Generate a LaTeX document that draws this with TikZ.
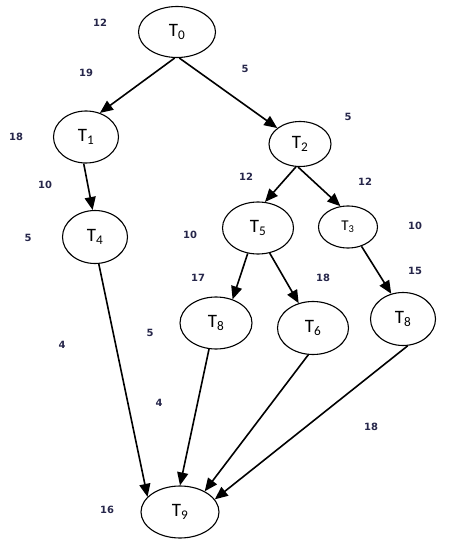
\documentclass[tikz,border=0pt]{standalone}
\usepackage{fontspec}
\setmainfont{Carlito}
\newfontfamily\numfont{DejaVu Sans}
\usetikzlibrary{shapes.geometric,arrows.meta}
\begin{document}
\begin{tikzpicture}[x=1bp,y=-1bp,
  task/.style={draw,ellipse,line width=1.1bp,inner sep=0pt,font=\fontsize{19}{21}\selectfont},
  wt/.style={font=\numfont\bfseries\fontsize{10}{12}\selectfont,text=black!80!blue!70!gray},
  edge/.style={line width=1.6bp,-{Triangle[length=13bp,width=11bp]}}]
\useasboundingbox (0,0) rectangle (474,540);
\node[task,minimum width=77bp,minimum height=51bp] (T0) at (177,32) {T$_\mathrm{0}$};
\node[task,minimum width=65bp,minimum height=52bp] (T1) at (86,137) {T$_\mathrm{1}$};
\node[task,minimum width=62bp,minimum height=45bp] (T2) at (300,144) {T$_\mathrm{2}$};
\node[task,minimum width=65bp,minimum height=53bp] (T4) at (95,237) {T$_\mathrm{4}$};
\node[task,minimum width=71bp,minimum height=52bp] (T5) at (258,228) {T$_\mathrm{5}$};
\node[task,minimum width=59bp,minimum height=42bp,font=\fontsize{15}{17}\selectfont] (T3) at (348,227) {T$_\mathrm{3}$};
\node[task,minimum width=72bp,minimum height=52bp] (T8a) at (216,323) {T$_\mathrm{8}$};
\node[task,minimum width=71bp,minimum height=53bp] (T6) at (313,328) {T$_\mathrm{6}$};
\node[task,minimum width=65bp,minimum height=53bp] (T8b) at (403,319) {T$_\mathrm{8}$};
\node[task,minimum width=78bp,minimum height=52bp] (T9) at (180,512) {T$_\mathrm{9}$};
% weights
\node[wt] (w1) at (100,23) {12};
\node[wt] (w2) at (86,73) {19};
\node[wt] (w3) at (245,69) {5};
\node[wt] (w4) at (348,117) {5};
\node[wt] (w5) at (16,137) {18};
\node[wt] (w6) at (45,185) {10};
\node[wt] (w7) at (246,177) {12};
\node[wt] (w8) at (365,182) {12};
\node[wt] (w9) at (28,238) {5};
\node[wt] (w10) at (190,235) {10};
\node[wt] (w11) at (415,226) {10};
\node[wt] (w12) at (415,271) {15};
\node[wt] (w13) at (198,278) {17};
\node[wt] (w14) at (323,278) {18};
\node[wt] (w15) at (150,333) {5};
\node[wt] (w16) at (62,345) {4};
\node[wt] (w17) at (159,403) {4};
\node[wt] (w18) at (371,427) {18};
\node[wt] (w19) at (107,510) {16};
% edges
\draw[edge] (T0.-95) -- (T1.60);
\draw[edge] (T0.-85) -- (T2.145);
\draw[edge] (T1.-95) -- (T4.95);
\draw[edge] (T2.-100) -- (T5.75);
\draw[edge] (T2.-95) -- (T3.110);
\draw[edge] (T5.-112) -- (T8a.55);
\draw[edge] (T5.-65) -- (T6.120);
\draw[edge] (T3.-55) -- (T8b.115);
\draw[edge] (T4.-82) -- (T9.155);
\draw[edge] (T8a.-105) -- (T9.90);
\draw[edge] (T6.-100) -- (T9.40);
\draw[edge] (T8b.-80) -- (T9.20);
\end{tikzpicture}
\end{document}
